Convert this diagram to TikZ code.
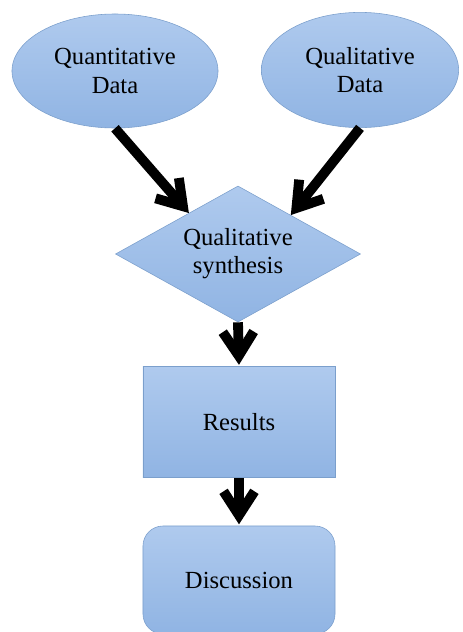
\documentclass[tikz,border=0pt]{standalone}
\usepackage{fontspec}
\setmainfont{Liberation Serif}
\usetikzlibrary{shapes.geometric,arrows.meta,calc}
\definecolor{boxtop}{HTML}{AFCAEE}
\definecolor{boxbottom}{HTML}{90B4E3}
\definecolor{boxline}{HTML}{7B9FCC}
\begin{document}
\begin{tikzpicture}[x=0.025cm,y=-0.025cm,
  blob/.style={draw=boxline, thin, top color=boxtop, bottom color=boxbottom, inner sep=0pt, align=center, font=\fontsize{17.5}{20}\selectfont},
  flow/.style={line width=7pt, -{Straight Barb[length=17pt,width=22pt]}}]
     \useasboundingbox (0,0) rectangle (462,632);
     % data sources
     \node[blob, ellipse, minimum width=5.15cm, minimum height=2.85cm] (quant) at (115,71) {Quantitative\\Data};
     \node[blob, ellipse, minimum width=4.93cm, minimum height=2.88cm] (qual) at (360,70) {Qualitative\\Data};
     % synthesis and outcome
     \node[blob, diamond, aspect=1.8, minimum width=6.125cm, minimum height=3.4cm] (synth) at (238,254) {Qualitative\\synthesis};
     \node[blob, rectangle, minimum width=4.8cm, minimum height=2.775cm] (res) at (239,422) {Results};
     \node[blob, rectangle, rounded corners=0.5cm, minimum width=4.8cm, minimum height=2.7cm] (disc) at (239,580) {Discussion};
     \draw[flow] (quant.south) -- ($(synth.west)!0.6!(synth.north)$);
     \draw[flow] (qual.south) -- ($(synth.north)!0.43!(synth.east)$);
     \draw[flow, shorten >=1pt] (synth.south) -- (res.north);
     \draw[flow, shorten >=1pt] (res.south) -- (disc.north);
\end{tikzpicture}
\end{document}
